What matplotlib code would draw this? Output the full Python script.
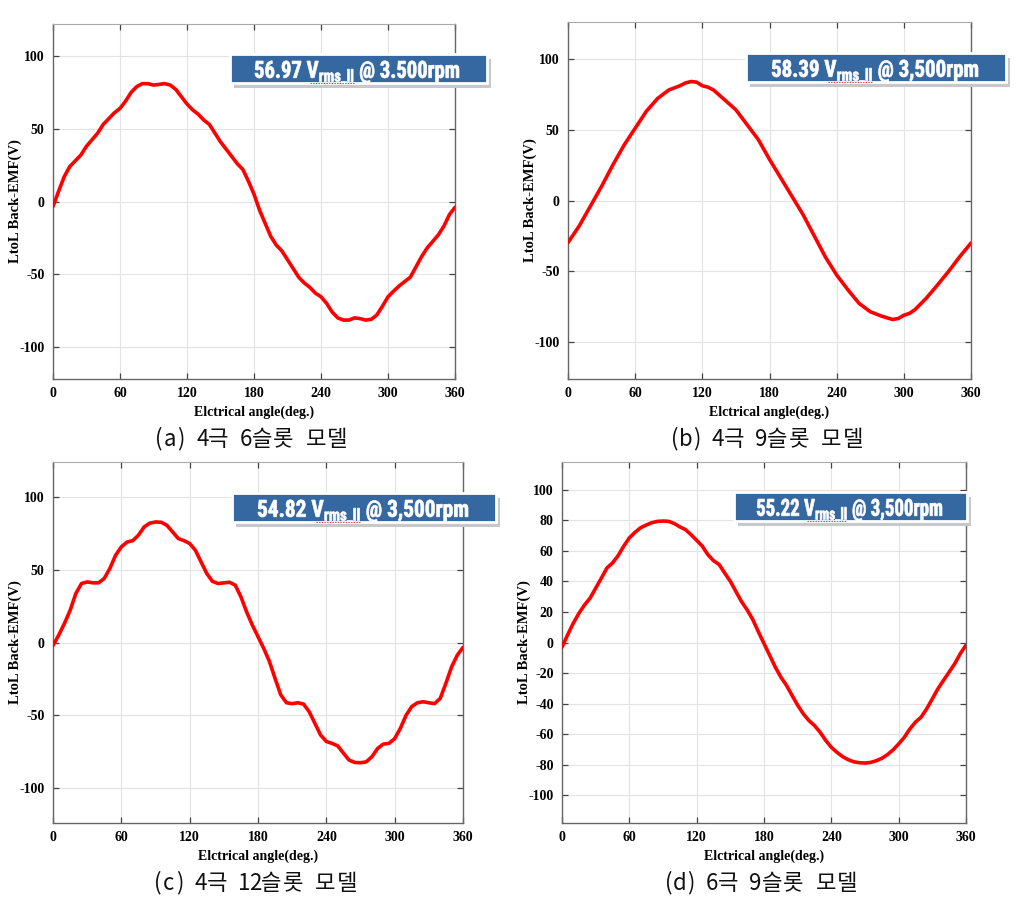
"""Line-to-line back-EMF waveforms for four pole/slot models."""

import matplotlib

matplotlib.use("Agg")
import matplotlib.pyplot as plt
from matplotlib import font_manager
from matplotlib.font_manager import FontProperties
from matplotlib.patches import PathPatch, Rectangle
from matplotlib.textpath import TextPath
from matplotlib.transforms import Affine2D
import numpy as np

# ---- data --------------------------------------------------------------
angle_a = np.arange(0, 361, 5)
emf_a = [-3.4, 7, 17, 24, 28, 32, 38, 42.5, 47, 53, 57, 61, 64, 69, 75, 79,
         81, 81, 80, 80.5, 81, 80, 77, 72, 67, 63, 60, 56, 53, 47, 41, 36,
         31, 26, 22, 14, 5, -6, -15, -24, -30, -34, -40, -46, -52, -56, -59,
         -63, -65.5, -70, -76, -80, -81.5, -81.5, -80, -80.5, -81.5, -81,
         -78, -72, -65.5, -61.6, -58, -55, -52, -45, -38, -32, -27.5, -23,
         -17, -9, -4]

angle_b = [0, 10, 20, 25, 30, 40, 50, 60, 70, 80, 90, 100, 105, 110, 115,
           120, 125, 130, 140, 150, 160, 170, 180, 190, 200, 210, 220, 230,
           240, 250, 260, 270, 280, 290, 295, 300, 305, 310, 320, 330, 340,
           350, 360]
emf_b = [-29.7, -18, -4, 3, 10, 25, 39, 51, 63, 72, 78, 81, 83, 84, 83.5,
         81, 80, 78, 71, 64, 53.5, 43, 29, 16, 3, -10, -25, -40, -52.6, -63,
         -72.6, -78.5, -81.6, -84, -83.3, -81, -79.7, -77, -69, -59.7, -50,
         -39.6, -30]

angle_c = np.arange(0, 361, 5)
emf_c = [-2, 5, 13, 22, 33.6, 40.5, 41.6, 41, 41, 44, 51, 60, 65.7, 69, 70,
         73.7, 79.4, 82, 82.8, 82.6, 80.5, 76, 71.4, 70, 68, 63.4, 55.4,
         47.4, 42, 40.5, 41, 41.4, 39.4, 31.4, 21, 12, 4, -4, -13, -24.7,
         -36, -41.4, -42, -41.4, -42.3, -47.6, -55.6, -63.6, -68, -69.3, -71,
         -76, -80.8, -82.4, -82.6, -82, -78.5, -72.8, -69.8, -69.3, -66, -59,
         -50, -44, -41.4, -40.7, -41.4, -42, -38.4, -28, -16.7, -8.7, -3.4]

angle_d = np.arange(0, 361, 5)
emf_d = [-3, 5, 12.5, 19, 24.5, 29, 35.5, 42, 48.7, 52, 56.8, 63, 68.4, 72,
         75, 76.8, 78.3, 79.2, 79.4, 79.2, 77.8, 75.6, 73.8, 70.5, 66.8, 63,
         57.4, 53.5, 51, 45.4, 40, 33.3, 26.7, 21.3, 15, 7, -0.7, -8.3, -16,
         -22.6, -28, -34.6, -41, -46.6, -51, -54.3, -58.7, -64, -68.5, -71.8,
         -74.6, -76.6, -78, -78.6, -78.8, -78.4, -77.3, -75.7, -73.3, -70.2,
         -66.3, -62, -56.5, -52, -48.8, -43.3, -36.8, -30.2, -24.7, -19.3,
         -13.8, -7.2, -1.7]

values = ["56.97", "58.39", "54.82", "55.22"]
speeds = ["3.500rpm", "3,500rpm", "3,500rpm", "3,500rpm"]
captions = ["(a) 4극 6슬롯 모델", "(b) 4극 9슬롯 모델",
            "(c) 4극 12슬롯 모델", "(d) 6극 9슬롯 모델"]
x_ticks = [0, 60, 120, 180, 240, 300, 360]
y_ticks_coarse = [-100, -50, 0, 50, 100]
y_ticks_fine = list(range(-100, 101, 20))

# ---- fonts ---------------------------------------------------------------
installed = {f.name for f in font_manager.fontManager.ttflist}


def _pick(cands):
    for c in cands:
        if c in installed:
            return c
    return "DejaVu Sans"


box_font = _pick(["Liberation Sans Narrow", "Roboto Condensed", "Roboto",
                  "Liberation Sans"])
serif = _pick(["Liberation Serif", "DejaVu Serif"])
plt.rcParams["axes.unicode_minus"] = False
plt.rcParams["mathtext.fontset"] = "custom"
plt.rcParams["mathtext.rm"] = f"{box_font}:bold"
plt.rcParams["mathtext.it"] = f"{box_font}:bold"
plt.rcParams["mathtext.bf"] = f"{box_font}:bold"
box_prop = FontProperties(family=box_font, weight="bold")
cjk = ["Noto Sans CJK KR", "DejaVu Sans"]

W, H = 1021, 905
fig = plt.figure(figsize=(W / 100, H / 100), dpi=100)
fig.patch.set_facecolor("white")

# pixel layout: axes (left, top, right, bottom), ylim half-range,
# box (left, top, right, bottom), text start x / baseline y / width, caption y
panels = [
    dict(ax=(53, 24, 455, 379), ylim=122, box=(230, 54, 487, 83),
         txt=(255, 78, 204), cap=439, x=angle_a, y=emf_a, yt=y_ticks_coarse),
    dict(ax=(568, 22, 971, 379), ylim=126, box=(746, 53, 1006, 82),
         txt=(772, 77, 206), cap=439, x=angle_b, y=emf_b, yt=y_ticks_coarse),
    dict(ax=(53, 462, 463, 823), ylim=124, box=(232, 493, 496, 522),
         txt=(258, 517, 210), cap=883, x=angle_c, y=emf_c, yt=y_ticks_coarse),
    dict(ax=(562, 462, 966, 823), ylim=118, box=(734, 492, 967, 521),
         txt=(757, 516, 185), cap=883, x=angle_d, y=emf_d, yt=y_ticks_fine),
]
CAP_H = 17   # digit height inside the boxes, px
CELL = 10.8  # half-width cell of the monospaced caption font, px


def _fx(px):
    return px / W


def _fy(py):
    return 1 - py / H


cap_ref = TextPath((0, 0), "5", size=20, prop=box_prop).get_extents().height

for i, p in enumerate(panels):
    l, t, r, b = p["ax"]
    ax = fig.add_axes([_fx(l), _fy(b), (r - l) / W, (b - t) / H])
    ax.plot(p["x"], p["y"], color="#ff0000", lw=2.6, solid_capstyle="round",
            zorder=3)
    ax.set_xlim(0, 360)
    ax.set_ylim(-p["ylim"], p["ylim"])
    ax.set_xticks(x_ticks)
    ax.set_yticks(p["yt"])
    ax.grid(True, color="#e3e3e3", lw=0.8)
    ax.tick_params(direction="in", top=True, right=True, length=4,
                   width=0.9, colors="#444444", labelcolor="black", pad=6)
    for lab in ax.get_xticklabels() + ax.get_yticklabels():
        lab.set_fontfamily(serif)
        lab.set_fontweight("bold")
        lab.set_fontsize(10)
    for side in ["left", "bottom", "right"]:
        ax.spines[side].set_color("#666666")
        ax.spines[side].set_linewidth(1.0)
    ax.spines["top"].set_color("#aaaaaa")
    ax.spines["top"].set_linewidth(0.8)
    ax.set_xlabel("Elctrical angle(deg.)", family=serif, fontweight="bold",
                  fontsize=10, labelpad=4)
    ax.set_ylabel("LtoL Back-EMF(V)", family=serif, fontweight="bold",
                  fontsize=10.5)
    ax.yaxis.set_label_coords(-31 / (r - l), 0.5)

    # annotation box with shadow
    bl, bt, br, bb = p["box"]
    shadow = Rectangle((_fx(bl + 4), _fy(bb + 5)), (br - bl) / W,
                       (bb - bt) / H, transform=fig.transFigure,
                       facecolor="#c8c8c8", edgecolor="none", zorder=5)
    fig.patches.append(shadow)
    box = Rectangle((_fx(bl), _fy(bb)), (br - bl) / W, (bb - bt) / H,
                    transform=fig.transFigure, facecolor="#3567a1",
                    edgecolor="white", lw=2.0, zorder=6)
    fig.patches.append(box)

    # condensed white label, drawn as a path so it can be squeezed
    label = rf"{values[i]} $\mathrm{{V_{{rms\_ll}}}}$ @ {speeds[i]}"
    tx, ty, tw = p["txt"]
    tp = TextPath((0, 0), label, size=20, prop=box_prop)
    ext = tp.get_extents()
    sx = tw / ext.width
    sy = CAP_H / cap_ref
    trans = (Affine2D().translate(-ext.x0, 0).scale(sx, sy)
             .translate(tx, H - ty))
    fig.patches.append(PathPatch(tp, transform=trans, facecolor="white",
                                 edgecolor="white", lw=0.5, zorder=7))

    # red spell-check underline below V_rms_ll
    pre = TextPath((0, 0), f"{values[i]} " + r"$\mathrm{V}$", size=20,
                   prop=box_prop).get_extents()
    sub = TextPath((0, 0), f"{values[i]} " + r"$\mathrm{V_{rms\_ll}}$",
                   size=20, prop=box_prop).get_extents()
    u0 = tx + (pre.x1 - ext.x0) * sx - 8
    u1 = tx + (sub.x1 - ext.x0) * sx + 1
    fig.lines.append(plt.Line2D([_fx(u0), _fx(u1)], [_fy(ty + 5)] * 2,
                                transform=fig.transFigure, color="#e04040",
                                lw=0.8, ls=(0, (1.2, 1.2)), zorder=8))

    # caption under the panel, laid out on a monospaced grid
    cells = [1 if ord(ch) < 128 else 2 for ch in captions[i]]
    total = sum(cells) * CELL
    cx = (l + r) / 2 - 3 - total / 2
    for ch, n in zip(captions[i], cells):
        if ch != " ":
            fig.text(_fx(cx + n * CELL / 2), _fy(p["cap"]), ch, family=cjk,
                     fontsize=16, ha="center", va="center", color="#111111")
        cx += n * CELL

fig.savefig("out.png", dpi=100, facecolor="white")
